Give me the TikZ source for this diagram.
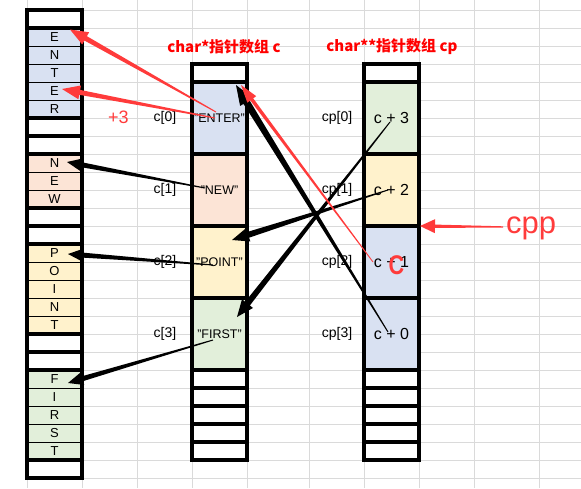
\documentclass[tikz,border=0pt]{standalone}
\usepackage{fontspec}
\setmainfont{Liberation Sans}
\newfontfamily\cjk{Noto Sans CJK SC}
\usetikzlibrary{calc}
\definecolor{gridc}{RGB}{218,218,218}
\definecolor{cblue}{HTML}{D9E1F2}
\definecolor{cpeach}{HTML}{FCE4D6}
\definecolor{cyel}{HTML}{FFF2CC}
\definecolor{cgreen}{HTML}{E2EFDA}
\definecolor{ared}{RGB}{255,59,59}
\definecolor{tred}{RGB}{255,0,0}
% tapered arrow: start, end, start half width, base half width, head half width, head length, colour
\newcommand\taperarrow[7]{%
  \coordinate (tmpH) at ($(#2)!#6pt!(#1)$);
  \fill[#7] ($(#1)!#3pt!90:(#2)$) -- ($(tmpH)!#4pt!90:(#2)$) -- ($(tmpH)!#5pt!90:(#2)$)
    -- (#2) -- ($(tmpH)!#5pt!-90:(#2)$) -- ($(tmpH)!#4pt!-90:(#2)$) -- ($(#1)!#3pt!-90:(#2)$) -- cycle;
}
\tikzset{
  lcell/.style={draw=black, line width=1pt, outer sep=0pt, inner sep=0pt,
    minimum width=55pt, minimum height=18pt, font=\fontsize{13}{13}\selectfont},
  thickb/.style={draw=black, line width=3.2pt},
  bcell/.style={draw=black, line width=3.2pt, outer sep=0pt, inner sep=0pt,
    minimum width=55pt, minimum height=72pt},
  ecell/.style={draw=black, line width=3.2pt, outer sep=0pt, inner sep=0pt,
    minimum width=55pt, minimum height=18pt, fill=white},
  lab/.style={font=\fontsize{14}{14}\selectfont, inner sep=0pt},
  ttl/.style={font=\cjk\bfseries\fontsize{15}{15}\selectfont, text=tred, inner sep=0pt},
  grid line/.style={draw=gridc, line width=1pt}
}
\begin{document}
\begin{tikzpicture}[x=1pt, y=-1pt]
\useasboundingbox (0,0) rectangle (581,488);
\fill[white] (0,0) rectangle (581,488);
% spreadsheet grid
\foreach \y in {10,28,...,478} \draw[grid line] (27,\y) -- (581,\y);
\foreach \x in {27,82,137,192,247,309,364,419,474,539} \draw[grid line] (\x,0) -- (\x,488);

% left character column
\foreach \i/\t/\c in {0/{}/white,1/E/cblue,2/N/cblue,3/T/cblue,4/E/cblue,5/R/cblue,
  6/{}/white,7/{}/white,8/N/cpeach,9/E/cpeach,10/W/cpeach,11/{}/white,12/{}/white,
  13/P/cyel,14/O/cyel,15/I/cyel,16/N/cyel,17/T/cyel,18/{}/white,19/{}/white,
  20/F/cgreen,21/I/cgreen,22/R/cgreen,23/S/cgreen,24/T/cgreen,25/{}/white}
  \node[lcell, fill=\c] (L\i) at (54.5,{19+18*\i}) {\t};
\foreach \a/\b in {0/0,1/5,6/6,7/7,8/10,11/11,12/12,13/17,18/18,19/19,20/24,25/25}
  \draw[thickb] (L\a.north west) rectangle (L\b.south east);

% char* array c
\node[ecell] (Cb) at (219.5,73) {};
\node[bcell, fill=cblue, font=\fontsize{12.5}{12.5}\selectfont] (C0) at (219.5,118) {"ENTER"};
\node[bcell, fill=cpeach, font=\fontsize{12.5}{12.5}\selectfont] (C1) at (219.5,190) {"NEW"};
\node[bcell, fill=cyel, font=\fontsize{12.5}{12.5}\selectfont] (C2) at (219.5,262) {"POINT"};
\node[bcell, fill=cgreen, font=\fontsize{12.5}{12.5}\selectfont] (C3) at (219.5,334) {"FIRST"};
\foreach \k in {1,...,5} \node[ecell] (Ce\k) at (219.5,{361+18*\k}) {};

% char** array cp
\node[ecell] (Pb) at (391.5,73) {};
\node[bcell, fill=cgreen, font=\fontsize{16}{16}\selectfont] (P0) at (391.5,118) {c + 3};
\node[bcell, fill=cyel, font=\fontsize{16}{16}\selectfont] (P1) at (391.5,190) {c + 2};
\node[bcell, fill=cblue, font=\fontsize{16}{16}\selectfont] (P2) at (391.5,262) {c + 1};
\node[bcell, fill=cblue, font=\fontsize{16}{16}\selectfont] (P3) at (391.5,334) {c + 0};
\foreach \k in {1,...,5} \node[ecell] (Pe\k) at (391.5,{361+18*\k}) {};

% labels
\foreach \k/\yy in {0/118,1/190,2/262,3/334} {
  \node[lab] (lc\k) at (165,\yy) {c[\k]};
  \node[lab] (lp\k) at (337,\yy) {cp[\k]};
}
\node[ttl] (t1) at (224,47) {char*指针数组 c};
\node[ttl] (t2) at (392,47) {char**指针数组 cp};

% arrow end points
\coordinate (sE1) at ($(C0.center)+(-3.5,-6)$);
\coordinate (tE1) at ($(L1.center)+(15.5,-7.5)$);
\coordinate (sE4) at ($(C0.center)+(-4.5,0)$);
\coordinate (tE4) at ($(L4.center)+(7.5,-2)$);
\coordinate (sN) at ($(C1.center)+(-14.5,-2)$);
\coordinate (tN) at ($(L8.center)+(12.5,-1)$);
\coordinate (sP) at ($(C2.center)+(-6.5,3)$);
\coordinate (tP) at ($(L13.center)+(13.5,1)$);
\coordinate (sF) at ($(C3.center)+(-6.5,6)$);
\coordinate (tF) at ($(L20.center)+(13.5,4)$);
\coordinate (s3) at ($(P0.center)+(-1.5,4)$);
\coordinate (t3) at ($(C3.center)+(17.5,-17)$);
\coordinate (s2) at ($(P1.center)+(-3.5,0)$);
\coordinate (t2) at ($(C2.center)+(12.5,-22)$);
\coordinate (s0) at ($(P3.center)+(-3.5,-2)$);
\coordinate (t0) at ($(C0.center)+(16.5,-33)$);
\coordinate (s1) at ($(P2.center)+(-18.5,0)$);
\coordinate (t1) at ($(C0.center)+(21.5,-33)$);

% arrows
\taperarrow{sE1}{tE1}{0.5}{2.5}{7}{18}{ared}
\taperarrow{sE4}{tE4}{0.5}{2.5}{7}{18}{ared}
\taperarrow{sN}{tN}{0.5}{2.5}{6.5}{15}{black}
\taperarrow{sP}{tP}{0.5}{2.5}{6.5}{15}{black}
\taperarrow{sF}{tF}{0.5}{2.5}{6.5}{15}{black}
\taperarrow{s3}{t3}{0.5}{3}{7}{17}{black}
\taperarrow{s2}{t2}{0.5}{3}{7}{17}{black}
\taperarrow{s0}{t0}{0.5}{3.5}{7.5}{20}{black}
\taperarrow{s1}{t1}{0.4}{1.8}{5.5}{18}{ared}

% overlays
\node[text=ared, font=\fontsize{27}{27}\selectfont\bfseries, inner sep=0pt] (bigC) at (396.5,265) {\scalebox{0.8}[1]{C}};
\node[anchor=base west, text=ared, font=\fontsize{31}{31}\selectfont, inner sep=0pt] (cpp) at (506,233) {cpp};
\coordinate (scpp) at ($(P2.north east)+(84,1)$);
\coordinate (tcpp) at ($(P2.north east)+(1,0)$);
\taperarrow{scpp}{tcpp}{0.7}{1.6}{7}{15}{ared}
\node[anchor=base west, text=ared, font=\fontsize{18}{18}\selectfont, inner sep=0pt] (plus3) at (108,123) {+3};
\end{tikzpicture}
\end{document}
